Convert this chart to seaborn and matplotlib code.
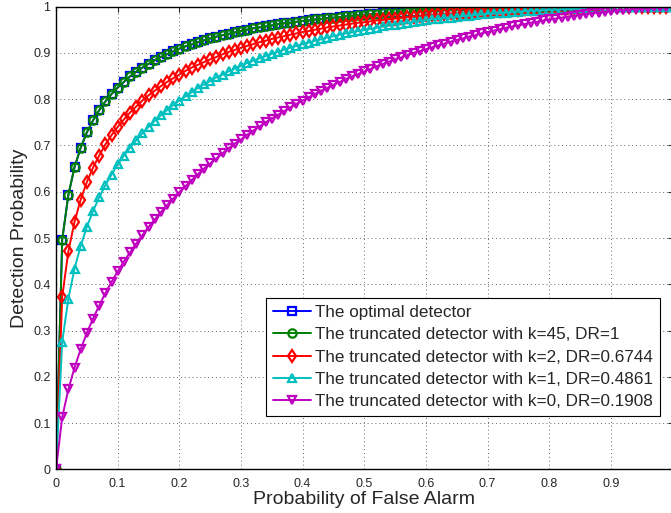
import numpy as np
import matplotlib
matplotlib.use("Agg")
import matplotlib.pyplot as plt
import seaborn as sns

# false alarm probabilities (in %), one marker every 0.01
pf_pct = [0, 1, 2, 3, 4, 5, 6, 7, 8, 9, 10, 11, 12, 13, 14, 15, 16, 17, 18, 19,
          20, 21, 22, 23, 24, 25, 26, 27, 28, 29, 30, 31, 32, 33, 34, 35, 36, 37, 38, 39,
          40, 41, 42, 43, 44, 45, 46, 47, 48, 49, 50, 51, 52, 53, 54, 55, 56, 57, 58, 59,
          60, 61, 62, 63, 64, 65, 66, 67, 68, 69, 70, 71, 72, 73, 74, 75, 76, 77, 78, 79,
          80, 81, 82, 83, 84, 85, 86, 87, 88, 89, 90, 91, 92, 93, 94, 95, 96, 97, 98, 99, 100]

# detection probabilities (per mille)
pd_optimal = [0, 496, 593, 653, 695, 728, 754, 776, 795, 811, 825, 837, 849, 859, 868, 876, 884, 891, 897, 903,
              909, 914, 918, 923, 927, 931, 935, 938, 941, 944, 947, 950, 953, 955, 957, 959, 962, 964, 965, 967,
              969, 970, 972, 973, 975, 976, 977, 979, 980, 981, 982, 983, 984, 985, 986, 986, 987, 988, 989, 989,
              990, 990, 991, 992, 992, 993, 993, 994, 994, 994, 995, 995, 996, 996, 996, 997, 997, 997, 997, 998,
              998, 998, 998, 998, 999, 999, 999, 999, 999, 999, 999, 1000, 1000, 1000, 1000, 1000, 1000, 1000, 1000, 1000, 1000]
pd_k45 = [0, 496, 593, 653, 695, 728, 754, 776, 795, 811, 825, 837, 849, 859, 868, 876, 884, 891, 897, 903,
          909, 914, 918, 923, 927, 931, 935, 938, 941, 944, 947, 950, 953, 955, 957, 959, 962, 964, 965, 967,
          969, 970, 972, 973, 975, 976, 977, 979, 980, 981, 982, 983, 984, 985, 986, 986, 987, 988, 989, 989,
          990, 990, 991, 992, 992, 993, 993, 994, 994, 994, 995, 995, 996, 996, 996, 997, 997, 997, 997, 998,
          998, 998, 998, 998, 999, 999, 999, 999, 999, 999, 999, 1000, 1000, 1000, 1000, 1000, 1000, 1000, 1000, 1000, 1000]
pd_k2 = [0, 373, 471, 535, 583, 621, 652, 678, 702, 722, 740, 756, 771, 784, 797, 808, 818, 828, 837, 845,
         853, 861, 868, 874, 880, 886, 891, 897, 902, 906, 911, 915, 919, 923, 926, 930, 933, 936, 939, 942,
         945, 947, 950, 952, 955, 957, 959, 961, 963, 965, 966, 968, 970, 971, 973, 974, 976, 977, 978, 979,
         981, 982, 983, 984, 985, 986, 987, 987, 988, 989, 990, 990, 991, 992, 992, 993, 994, 994, 995, 995,
         995, 996, 996, 997, 997, 997, 998, 998, 998, 998, 999, 999, 999, 999, 999, 1000, 1000, 1000, 1000, 1000, 1000]
pd_k1 = [0, 276, 369, 434, 483, 524, 558, 588, 614, 637, 659, 678, 695, 711, 726, 740, 753, 765, 776, 787,
         797, 806, 815, 824, 832, 839, 847, 853, 860, 866, 872, 878, 883, 888, 893, 898, 902, 907, 911, 915,
         919, 922, 926, 929, 933, 936, 939, 942, 944, 947, 949, 952, 954, 957, 959, 961, 963, 965, 967, 968,
         970, 972, 973, 975, 976, 978, 979, 980, 982, 983, 984, 985, 986, 987, 988, 989, 990, 991, 991, 992,
         993, 993, 994, 995, 995, 996, 996, 997, 997, 998, 998, 998, 999, 999, 999, 999, 1000, 1000, 1000, 1000, 1000]
pd_k0 = [0, 113, 173, 220, 260, 295, 326, 354, 381, 405, 428, 449, 469, 488, 506, 524, 540, 556, 571, 585,
         599, 612, 625, 638, 650, 661, 672, 683, 694, 704, 713, 723, 732, 741, 750, 758, 766, 774, 782, 790,
         797, 804, 811, 818, 824, 831, 837, 843, 849, 854, 860, 865, 871, 876, 881, 886, 890, 895, 900, 904,
         908, 912, 916, 920, 924, 928, 931, 935, 938, 942, 945, 948, 951, 954, 957, 959, 962, 965, 967, 970,
         972, 974, 976, 978, 980, 982, 984, 986, 987, 989, 990, 992, 993, 994, 995, 997, 997, 998, 999, 1000, 1000]

labels = ["The optimal detector",
          "The truncated detector with k=45, DR=1",
          "The truncated detector with k=2, DR=0.6744",
          "The truncated detector with k=1, DR=0.4861",
          "The truncated detector with k=0, DR=0.1908"]
colors = ["#0000ff", "#008000", "#ff0000", "#00bfbf", "#bf00bf"]
markers = ["s", "o", "d", "^", "v"]

sns.set_style("white")
plt.rcParams["font.family"] = ["Liberation Sans", "DejaVu Sans"]

fig = plt.figure(figsize=(6.71, 5.13), dpi=100)
ax = fig.add_axes([0.0835, 0.0848, 0.9189, 0.9025])

x = np.array(pf_pct) / 100
for pd_vals, lab, col, mk in zip([pd_optimal, pd_k45, pd_k2, pd_k1, pd_k0], labels, colors, markers):
    sns.lineplot(x=x, y=np.array(pd_vals) / 1000, color=col, marker=mk, markersize=6,
                 markerfacecolor="none", markeredgecolor=col, markeredgewidth=1.6,
                 linewidth=1.4, label=lab, ax=ax)

ax.set_xlim(0, 1)
ax.set_ylim(0, 1)
ticks = np.arange(0, 11) / 10
ax.set_xticks(ticks)
ax.set_yticks(ticks)
ax.set_xticklabels(["0", "0.1", "0.2", "0.3", "0.4", "0.5", "0.6", "0.7", "0.8", "0.9", ""])
ax.set_yticklabels(["0", "0.1", "0.2", "0.3", "0.4", "0.5", "0.6", "0.7", "0.8", "0.9", "1"])
ax.tick_params(direction="in", length=3.5, width=0.8, top=True, right=True, labelsize=9)
ax.tick_params(axis="x", pad=6)
ax.tick_params(axis="y", pad=4)
ax.grid(True, color="0.4", linestyle=(0, (1, 3)), linewidth=0.7)
for s in ax.spines.values():
    s.set_color("black")
    s.set_linewidth(1.0)
ax.set_xlabel("Probability of False Alarm", fontsize=14, labelpad=1)
ax.set_ylabel("Detection Probability", fontsize=14, labelpad=4)

leg = ax.legend(loc="upper left", bbox_to_anchor=(0.3406, 0.3704), borderaxespad=0,
                fontsize=12.3, handlelength=2.2, handletextpad=0.25, labelspacing=0.42,
                borderpad=0.42, fancybox=False, framealpha=1, edgecolor="black", numpoints=1)
leg.get_frame().set_linewidth(0.8)

fig.savefig("out.png", dpi=100)
